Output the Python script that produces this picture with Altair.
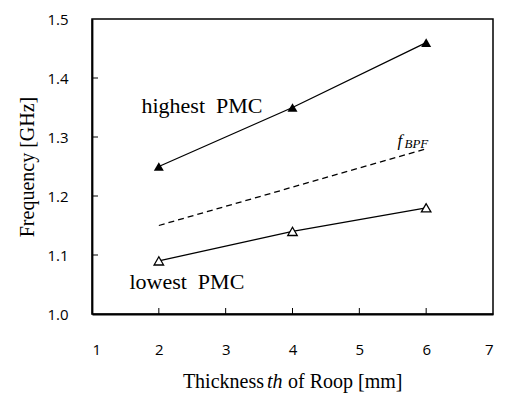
import altair as alt
import pandas as pd

# ---- data ----
thickness = [2, 4, 6]
highest_pmc = [1.25, 1.35, 1.46]
lowest_pmc = [1.09, 1.14, 1.18]
f_bpf = [1.15, 1.215, 1.28]

x_tick_labels = [1, 2, 3, 4, 5, 6, 7]
y_tick_labels = [1.0, 1.1, 1.2, 1.3, 1.4, 1.5]
x_inner_ticks = [2, 3, 4, 5, 6]
y_inner_ticks = [1.1, 1.2, 1.3, 1.4]

W, H = 401, 295
SERIF = "Liberation Serif"
SANS = "Open Sans"

df = pd.DataFrame({"th": thickness, "high": highest_pmc, "low": lowest_pmc, "bpf": f_bpf})

xs = alt.Scale(domain=[1, 7], nice=False, zero=False)
ys = alt.Scale(domain=[1.0, 1.5], nice=False, zero=False)

x_axis = alt.Axis(values=x_tick_labels, ticks=False, grid=False, labelPadding=28,
                  labelFont=SANS, labelFontSize=15, labelColor="black",
                  domainColor="black", domainWidth=1.8, title=None)
y_axis = alt.Axis(values=y_tick_labels, format=".1f", ticks=False, grid=False, labelPadding=24,
                  labelFont=SANS, labelFontSize=15, labelColor="black",
                  domainColor="black", domainWidth=1.8,
                  title="Frequency [GHz]", titleFont=SERIF, titleFontSize=20,
                  titleFontWeight="normal", titleColor="black", titlePadding=9)


def X(field):
    return alt.X(field, scale=xs, axis=x_axis)


def Y(field):
    return alt.Y(field, scale=ys, axis=y_axis)


base = alt.Chart(df)

high_line = base.mark_line(color="black", strokeWidth=1.3).encode(x=X("th:Q"), y=Y("high:Q"))
high_pts = base.mark_point(shape="triangle-up", filled=True, color="black", size=100, opacity=1).encode(
    x=X("th:Q"), y=Y("high:Q"))
low_line = base.mark_line(color="black", strokeWidth=1.3).encode(x=X("th:Q"), y=Y("low:Q"))
low_pts = base.mark_point(shape="triangle-up", filled=True, fill="white", stroke="black",
                          strokeWidth=1.3, size=90, opacity=1).encode(x=X("th:Q"), y=Y("low:Q"))
bpf_line = base.mark_line(color="black", strokeWidth=1.3, strokeDash=[6, 4]).encode(
    x=X("th:Q"), y=Y("bpf:Q"))

# inward tick marks
yt = alt.Chart(pd.DataFrame({"v": y_inner_ticks})).mark_rule(color="black", strokeWidth=1).encode(
    y=Y("v:Q"), x=alt.value(0), x2=alt.value(6))
xt = alt.Chart(pd.DataFrame({"v": x_inner_ticks})).mark_rule(color="black", strokeWidth=1).encode(
    x=X("v:Q"), y=alt.value(H), y2=alt.value(H - 6))


# annotations placed in data coordinates
def label(text, x, y, size, style="normal", align="left"):
    return alt.Chart(pd.DataFrame({"t": [text], "xv": [x], "yv": [y]})).mark_text(
        font=SERIF, fontSize=size, fontStyle=style, align=align, baseline="alphabetic", color="black"
    ).encode(text="t:N", x=X("xv:Q"), y=Y("yv:Q"))


NB = "\u00a0"
t_high = label("highest" + NB + " PMC", 1.74, 1.34, 22)
t_low = label("lowest" + NB + " PMC", 1.56, 1.043, 22)
t_f = label("f", 5.57, 1.284, 17, "italic")
t_bpf = label("BPF", 5.675, 1.281, 13, "italic")


# x-axis title with italic "th"
def px_text(text, x, y, size, style="normal", align="left"):
    return alt.Chart(pd.DataFrame({"t": [text]})).mark_text(
        font=SERIF, fontSize=size, fontStyle=style, align=align, baseline="alphabetic", color="black"
    ).encode(text="t:N", x=alt.value(x), y=alt.value(y))


title_y = H + 74
xt1 = px_text("Thickness", 172, title_y, 20, align="right")
xt2 = px_text("th", 175, title_y, 20, style="italic")
xt3 = px_text("of Roop [mm]", 196, title_y, 20)

chart = alt.layer(
    high_line, low_line, bpf_line, high_pts, low_pts, yt, xt,
    t_high, t_low, t_f, t_bpf, xt1, xt2, xt3
).properties(
    width=W, height=H,
    autosize=alt.AutoSizeParams(type="none"),
    padding={"left": 84, "top": 11, "right": 4, "bottom": 79},
).configure_view(stroke="black", strokeWidth=1.5)

chart.save("out.html", embed_options={"renderer": "svg", "actions": False})
